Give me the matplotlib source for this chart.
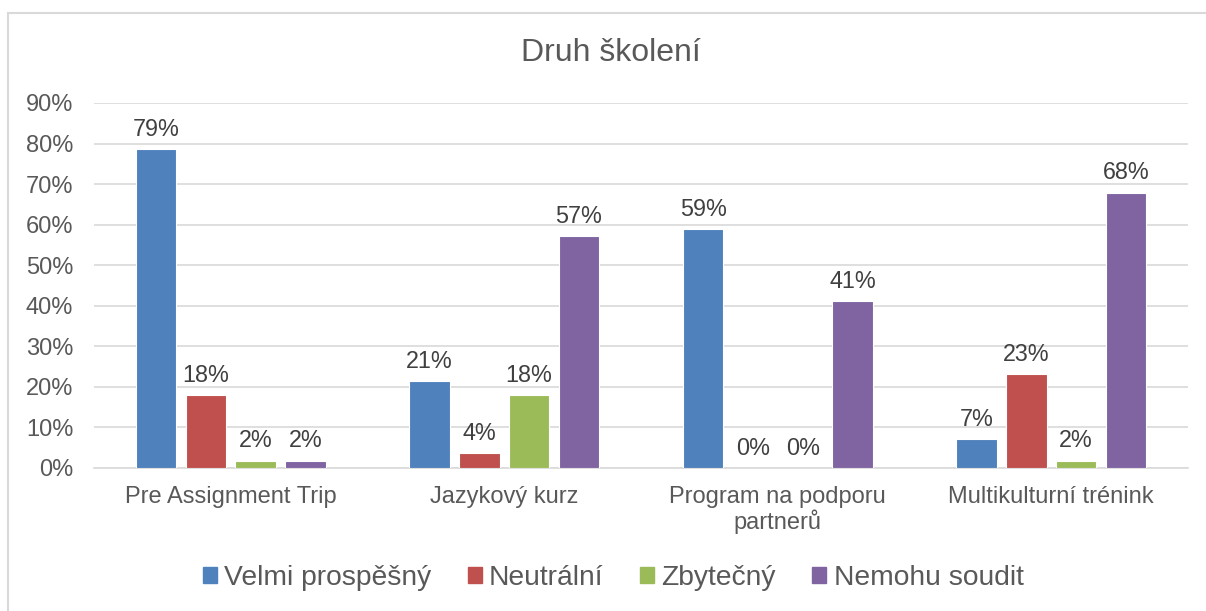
import matplotlib
matplotlib.use("Agg")
import matplotlib.pyplot as plt
import numpy as np
from matplotlib.lines import Line2D

plt.rcParams['font.family'] = ['Liberation Sans', 'DejaVu Sans']

categories = ["Pre Assignment Trip", "Jazykový kurz", "Program na podporu\npartnerů", "Multikulturní trénink"]
series_names = ["Velmi prospěšný", "Neutrální", "Zbytečný", "Nemohu soudit"]
velmi = [0.786, 0.214, 0.589, 0.071]
neutralni = [0.179, 0.036, 0.0, 0.232]
zbytecny = [0.018, 0.179, 0.0, 0.018]
nemohu = [0.018, 0.571, 0.411, 0.679]
labels_velmi = ["79%", "21%", "59%", "7%"]
labels_neutralni = ["18%", "4%", "0%", "23%"]
labels_zbytecny = ["2%", "18%", "0%", "2%"]
labels_nemohu = ["2%", "57%", "41%", "68%"]
colors = ["#4f81bd", "#c0504d", "#9bbb59", "#8064a2"]

W, H = 1206, 611
fig = plt.figure(figsize=(W / 100, H / 100), dpi=100)
ax = fig.add_axes([94 / W, (H - 468) / H, (1188 - 94) / W, (468 - 103) / H])

x = np.arange(len(categories))
step = 0.182
width = 0.148
data = [velmi, neutralni, zbytecny, nemohu]
labs = [labels_velmi, labels_neutralni, labels_zbytecny, labels_nemohu]
for i, (vals, lab, c) in enumerate(zip(data, labs, colors)):
    pos = x + (i - 1.5) * step
    bars = ax.bar(pos, vals, width, color=c, edgecolor="white", linewidth=0.8, zorder=3)
    for b, v, t in zip(bars, vals, lab):
        ax.annotate(t, (b.get_x() + b.get_width() / 2, v), xytext=(0, 6),
                    textcoords="offset points", ha="center", va="bottom",
                    fontsize=16.8, color="#404040")

ax.set_xlim(-0.5, len(categories) - 0.5)
ax.set_ylim(0, 0.9)
ax.set_yticks(np.arange(0, 0.91, 0.1))
ax.set_yticklabels([f"{int(round(v*100))}%" for v in np.arange(0, 0.91, 0.1)],
                   fontsize=17, color="#595959")
ax.set_xticks(x)
ax.set_xticklabels(categories, fontsize=17, color="#595959", linespacing=1.05)
ax.tick_params(axis="x", length=0, pad=13)
ax.tick_params(axis="y", length=0, pad=15)
ax.grid(axis="y", color="#d9d9d9", linewidth=1.2, zorder=0)
for s in ["top", "right", "left"]:
    ax.spines[s].set_visible(False)
ax.spines["bottom"].set_color("#d9d9d9")
ax.spines["bottom"].set_linewidth(1.2)

fig.text(611 / W, 1 - 53 / H, "Druh školení", ha="center", va="center",
         fontsize=23, color="#595959")

handles = [plt.Rectangle((0, 0), 1, 1, color=c) for c in colors]
fig.legend(handles, series_names, loc="center", bbox_to_anchor=(613 / W, 1 - 578 / H),
           ncol=4, frameon=False, fontsize=20.3, handlelength=0.5, handleheight=0.5,
           handletextpad=0.25, columnspacing=1.3, labelcolor="#595959")

# outer chart border (top and left visible)
fig.add_artist(Line2D([7.5 / W, 1.0], [1 - 12.5 / H, 1 - 12.5 / H], color="#d9d9d9", lw=1.5,
                      transform=fig.transFigure))
fig.add_artist(Line2D([7.5 / W, 7.5 / W], [0, 1 - 12.5 / H], color="#d9d9d9", lw=1.5,
                      transform=fig.transFigure))

fig.savefig("out.png", dpi=100, facecolor="white")
